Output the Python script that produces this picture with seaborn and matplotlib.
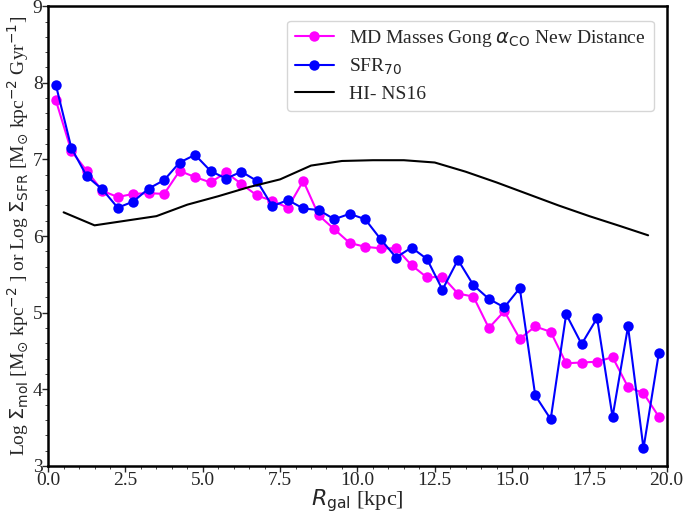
import numpy as np
import pandas as pd
import matplotlib
matplotlib.use("Agg")
import matplotlib.pyplot as plt
import seaborn as sns

# ---- data ----
r_bins = [0.25, 0.75, 1.25, 1.75, 2.25, 2.75, 3.25, 3.75, 4.25, 4.75,
          5.25, 5.75, 6.25, 6.75, 7.25, 7.75, 8.25, 8.75, 9.25, 9.75,
          10.25, 10.75, 11.25, 11.75, 12.25, 12.75, 13.25, 13.75, 14.25, 14.75,
          15.25, 15.75, 16.25, 16.75, 17.25, 17.75, 18.25, 18.75, 19.25, 19.75]
sigma_mol = [7.77, 7.11, 6.85, 6.59, 6.51, 6.55, 6.56, 6.55, 6.85, 6.77,
             6.70, 6.83, 6.68, 6.53, 6.46, 6.37, 6.72, 6.27, 6.09, 5.91,
             5.86, 5.84, 5.84, 5.62, 5.46, 5.47, 5.25, 5.21, 4.80, 5.02,
             4.66, 4.82, 4.75, 4.34, 4.35, 4.36, 4.42, 4.03, 3.95, 3.64]
sigma_sfr = [7.97, 7.15, 6.78, 6.61, 6.37, 6.45, 6.62, 6.73, 6.96, 7.06,
             6.85, 6.75, 6.84, 6.72, 6.39, 6.47, 6.36, 6.34, 6.22, 6.29,
             6.22, 5.96, 5.72, 5.85, 5.70, 5.30, 5.69, 5.36, 5.18, 5.07,
             5.32, 3.92, 3.61, 4.98, 4.59, 4.93, 3.64, 4.82, 3.23, 4.48]
r_hi = [0.5, 1.5, 2.5, 3.5, 4.5, 5.5, 6.5, 7.5, 8.5, 9.5,
        10.5, 11.5, 12.5, 13.5, 14.5, 15.5, 16.5, 17.5, 18.5, 19.4]
sigma_hi = [6.31, 6.14, 6.20, 6.26, 6.41, 6.52, 6.64, 6.74, 6.92, 6.98,
            6.99, 6.99, 6.96, 6.84, 6.70, 6.55, 6.40, 6.26, 6.13, 6.01]

labels = [r"MD Masses Gong $\alpha_{\rm CO}$ New Distance", r"SFR$_{70}$", "HI- NS16"]

sns.set_style("ticks")
plt.rcParams["font.family"] = ["Liberation Serif", "DejaVu Sans"]
plt.rcParams["mathtext.fontset"] = "dejavusans"

fig = plt.figure(figsize=(6.88, 5.16), dpi=100)
ax = fig.add_axes([0.070, 0.097, 0.899, 0.891])

df_mol = pd.DataFrame({"r": r_bins, "v": sigma_mol})
df_sfr = pd.DataFrame({"r": r_bins, "v": sigma_sfr})
df_hi = pd.DataFrame({"r": r_hi, "v": sigma_hi})

sns.lineplot(data=df_mol, x="r", y="v", ax=ax, color="#ff00ff", marker="o",
             markersize=7.5, markeredgewidth=0, linewidth=1.5, label=labels[0], sort=False)
sns.lineplot(data=df_sfr, x="r", y="v", ax=ax, color="#0000ff", marker="o",
             markersize=7.5, markeredgewidth=0, linewidth=1.5, label=labels[1], sort=False)
sns.lineplot(data=df_hi, x="r", y="v", ax=ax, color="black",
             linewidth=1.5, label=labels[2], sort=False)

ax.set_xlim(0, 20)
ax.set_ylim(3, 9)
ax.set_xticks([0, 2.5, 5, 7.5, 10, 12.5, 15, 17.5, 20])
ax.set_xticklabels(["0.0", "2.5", "5.0", "7.5", "10.0", "12.5", "15.0", "17.5", "20.0"])
ax.set_yticks([3, 4, 5, 6, 7, 8, 9])
ax.minorticks_on()
ax.tick_params(which="major", direction="out", length=4, width=1, labelsize=14, pad=0)
ax.tick_params(which="minor", direction="out", length=2, width=0.6)
for s in ax.spines.values():
    s.set_linewidth(1.8)
    s.set_color("black")

ax.set_xlabel(r"$R_{\rm gal}$ [kpc]", fontsize=16, labelpad=-1)
ax.set_ylabel(r"Log $\Sigma_{\rm mol}$ [M$_{\odot}$ kpc$^{-2}$ ] or Log $\Sigma_{\rm SFR}$ [M$_{\odot}$ kpc$^{-2}$ Gyr$^{-1}$]",
              fontsize=14, labelpad=1)

ax.legend(loc="upper right", fontsize=14, frameon=True, handlelength=2.0,
          borderpad=0.4, labelspacing=0.4, bbox_to_anchor=(0.995, 0.99))

fig.savefig("out.png", dpi=100)
